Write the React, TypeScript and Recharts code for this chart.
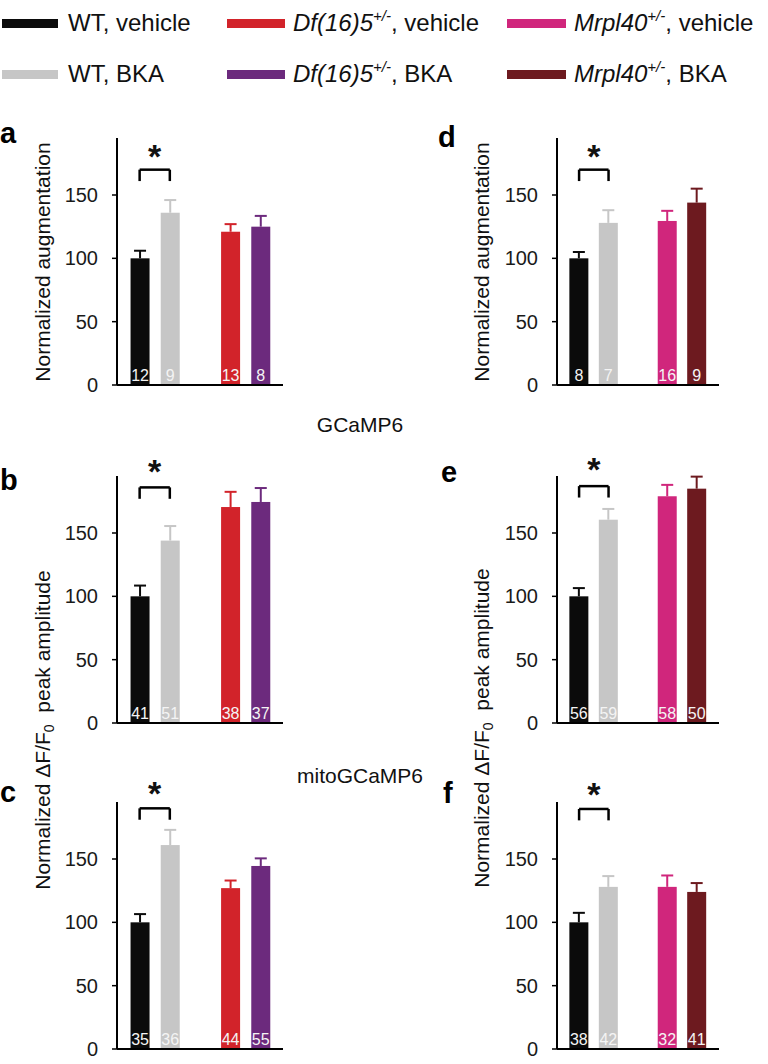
import { BarChart, Bar, XAxis, YAxis, Cell, LabelList, ReferenceLine, ReferenceDot } from "recharts";

// bar slots: 1,2 = WT; 4,5 = mutant (3 is the gap)
const positions = [1, 2, 4, 5];
const yTicks = [0, 50, 100, 150];

const leftColors = ["#0b0b0b", "#c6c6c6", "#d2232a", "#6c2a7d"];
const rightColors = ["#0b0b0b", "#c6c6c6", "#d0267c", "#6d1a1f"];

// a: Df(16)5, normalized augmentation
const aMean = [100, 136, 121, 125];
const aSem = [6, 10, 6, 8.5];
const aN = [12, 9, 13, 8];
// d: Mrpl40, normalized augmentation
const dMean = [100, 128, 129.5, 144];
const dSem = [5, 10, 8, 11];
const dN = [8, 7, 16, 9];
// b: Df(16)5, GCaMP6
const bMean = [100, 144, 170.5, 174.5];
const bSem = [8.5, 11.5, 12, 11];
const bN = [41, 51, 38, 37];
// e: Mrpl40, GCaMP6
const eMean = [100, 160.5, 179, 185];
const eSem = [6.5, 8.5, 9, 9.5];
const eN = [56, 59, 58, 50];
// c: Df(16)5, mitoGCaMP6
const cMean = [100, 161, 127, 144.5];
const cSem = [6.5, 12, 6, 6];
const cN = [35, 36, 44, 55];
// f: Mrpl40, mitoGCaMP6
const fMean = [100, 128, 128, 124];
const fSem = [7.5, 8.5, 9, 7];
const fN = [38, 42, 32, 41];

// significance bracket height and star height per panel
const bracketY = { a: 170, d: 170, b: 186, e: 187, c: 190, f: 189.5 };
const starY = { a: 181, d: 181, b: 199, e: 200.5, c: 202, f: 201 };

const FONT = "'Liberation Sans', Arial, Helvetica, sans-serif";
const PLOT_H = 247;
const M_TOP = 40;
const M_BOTTOM = 14;

function BarWithError(props: any) {
  const { x, y, width, height, fill, payload } = props;
  const unit = payload.mean > 0 ? height / payload.mean : 0;
  const top = y - payload.sem * unit;
  const cx = x + width / 2;
  return (
    <g>
      <rect x={x} y={y} width={width} height={height} fill={fill} />
      <line x1={cx} x2={cx} y1={y} y2={top} stroke={fill} strokeWidth={2} />
      <line x1={cx - 6} x2={cx + 6} y1={top} y2={top} stroke={fill} strokeWidth={2} />
    </g>
  );
}

function Star(props: any) {
  const { cx, cy } = props;
  return (
    <text x={cx} y={cy + 12} textAnchor="middle" fontSize={34} fontWeight="bold" fill="#111">
      *
    </text>
  );
}

function Panel({ left, plotTop, plotWidth, means, sems, ns, colors, bracket, star }: any) {
  const data = positions.map((p, i) => ({ pos: p, mean: means[i], sem: sems[i], n: ns[i] }));
  const legY = bracket - 9;
  return (
    <div style={{ position: "absolute", left, top: plotTop - M_TOP }}>
      <BarChart
        width={117 + plotWidth + 8}
        height={M_TOP + PLOT_H + 1 + M_BOTTOM}
        data={data}
        margin={{ top: M_TOP, right: 8, bottom: M_BOTTOM, left: 0 }}
      >
        <XAxis
          type="number"
          dataKey="pos"
          domain={[0.25, 5.75]}
          tick={false}
          tickLine={false}
          height={1}
          axisLine={{ stroke: "#000", strokeWidth: 2 }}
        />
        <YAxis
          width={117}
          domain={[0, 195]}
          ticks={yTicks}
          interval={0}
          tickSize={5}
          tickMargin={14}
          tick={{ fontSize: 20, fill: "#1a1a1a" }}
          tickLine={{ stroke: "#000", strokeWidth: 1.5 }}
          axisLine={{ stroke: "#000", strokeWidth: 2 }}
        />
        <Bar dataKey="mean" barSize={19} shape={<BarWithError />} isAnimationActive={false}>
          {data.map((d, i) => (
            <Cell key={d.pos} fill={colors[i]} />
          ))}
          <LabelList dataKey="n" position="insideBottom" offset={4} fill="#f4f4f4" fontSize={16} />
        </Bar>
        <ReferenceLine
          segment={[{ x: 1, y: bracket }, { x: 2, y: bracket }]}
          stroke="#000"
          strokeWidth={2.5}
          ifOverflow="visible"
        />
        <ReferenceLine
          segment={[{ x: 1, y: legY }, { x: 1, y: bracket }]}
          stroke="#000"
          strokeWidth={2.5}
          ifOverflow="visible"
        />
        <ReferenceLine
          segment={[{ x: 2, y: legY }, { x: 2, y: bracket }]}
          stroke="#000"
          strokeWidth={2.5}
          ifOverflow="visible"
        />
        <ReferenceDot x={1.5} y={star} r={0} ifOverflow="visible" shape={<Star />} />
      </BarChart>
    </div>
  );
}

function Geno({ name, tail }: { name: string; tail: string }) {
  return (
    <>
      <tspan fontStyle="italic">{name}</tspan>
      <tspan fontStyle="italic" fontSize={15} dy={-10}>
        +/-
      </tspan>
      <tspan dy={10}>{tail}</tspan>
    </>
  );
}

const legendRows = [31, 82];
const legendSwatchX = [2, 227, 507];

function Overlay() {
  return (
    <svg
      width={768}
      height={1064}
      style={{ position: "absolute", left: 0, top: 0, pointerEvents: "none" }}
      fontFamily={FONT}
    >
      {/* legend */}
      <rect x={legendSwatchX[0]} y={19} width={56} height={9} fill={leftColors[0]} />
      <rect x={legendSwatchX[0]} y={70} width={56} height={9} fill={leftColors[1]} />
      <rect x={legendSwatchX[1]} y={19} width={58} height={9} fill={leftColors[2]} />
      <rect x={legendSwatchX[1]} y={70} width={58} height={9} fill={leftColors[3]} />
      <rect x={legendSwatchX[2]} y={19} width={59} height={9} fill={rightColors[2]} />
      <rect x={legendSwatchX[2]} y={70} width={59} height={9} fill={rightColors[3]} />
      <g fontSize={24} fill="#111">
        <text x={68} y={legendRows[0]}>WT, vehicle</text>
        <text x={68} y={legendRows[1]}>WT, BKA</text>
        <text x={293} y={legendRows[0]}>
          <Geno name="Df(16)5" tail=", vehicle" />
        </text>
        <text x={293} y={legendRows[1]}>
          <Geno name="Df(16)5" tail=", BKA" />
        </text>
        <text x={574} y={legendRows[0]}>
          <Geno name="Mrpl40" tail=", vehicle" />
        </text>
        <text x={574} y={legendRows[1]}>
          <Geno name="Mrpl40" tail=", BKA" />
        </text>
      </g>

      {/* panel letters */}
      <g fontSize={29} fontWeight="bold" fill="#000">
        <text x={0} y={143}>a</text>
        <text x={438} y={147}>d</text>
        <text x={0} y={490}>b</text>
        <text x={441} y={482}>e</text>
        <text x={0} y={802}>c</text>
        <text x={443} y={803}>f</text>
      </g>

      {/* sensor titles */}
      <g fontSize={21} fill="#111" textAnchor="middle">
        <text x={360} y={432}>GCaMP6</text>
        <text x={360} y={783}>mitoGCaMP6</text>
      </g>

      {/* y axis titles */}
      <g fontSize={21} fill="#111" textAnchor="middle">
        <text transform="translate(43,262) rotate(-90)" dy={7}>Normalized augmentation</text>
        <text transform="translate(482,262) rotate(-90)" dy={7}>Normalized augmentation</text>
        <text transform="translate(43,730) rotate(-90)" dy={7}>
          Normalized ΔF/F
          <tspan fontSize={14} dy={4}>0</tspan>
          <tspan dy={-4}>{"\u00a0\u00a0peak amplitude"}</tspan>
        </text>
        <text transform="translate(482,728) rotate(-90)" dy={7}>
          Normalized ΔF/F
          <tspan fontSize={14} dy={4}>0</tspan>
          <tspan dy={-4}>{"\u00a0\u00a0peak amplitude"}</tspan>
        </text>
      </g>
    </svg>
  );
}

export default function App() {
  return (
    <div
      style={{
        position: "absolute",
        left: 0,
        top: 0,
        width: 768,
        height: 1064,
        background: "#fff",
        fontFamily: FONT,
      }}
    >
      <Panel left={0} plotTop={138} plotWidth={166} means={aMean} sems={aSem} ns={aN} colors={leftColors} bracket={bracketY.a} star={starY.a} />
      <Panel left={440} plotTop={138} plotWidth={162} means={dMean} sems={dSem} ns={dN} colors={rightColors} bracket={bracketY.d} star={starY.d} />
      <Panel left={0} plotTop={476} plotWidth={166} means={bMean} sems={bSem} ns={bN} colors={leftColors} bracket={bracketY.b} star={starY.b} />
      <Panel left={440} plotTop={476} plotWidth={162} means={eMean} sems={eSem} ns={eN} colors={rightColors} bracket={bracketY.e} star={starY.e} />
      <Panel left={0} plotTop={802} plotWidth={166} means={cMean} sems={cSem} ns={cN} colors={leftColors} bracket={bracketY.c} star={starY.c} />
      <Panel left={440} plotTop={802} plotWidth={162} means={fMean} sems={fSem} ns={fN} colors={rightColors} bracket={bracketY.f} star={starY.f} />
      <Overlay />
    </div>
  );
}
